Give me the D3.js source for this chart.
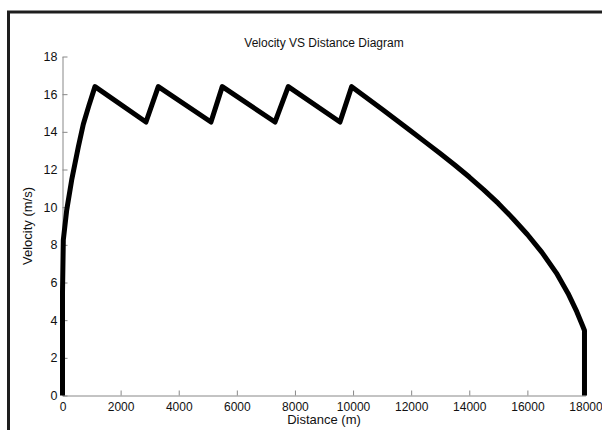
<!DOCTYPE html>
<html>
<head>
<meta charset="utf-8">
<script src="https://cdn.jsdelivr.net/npm/d3@7"></script>
<style>
  html, body { margin: 0; padding: 0; background: #fff; overflow: hidden; }
  svg { display: block; }
  text { font-family: "Liberation Sans", Arial, Helvetica, sans-serif; fill: #111; }
</style>
</head>
<body>
<svg id="chart" width="602" height="430"></svg>
<script>
// ---- data ----
const distance = [0, 0, 28, 145, 317, 544, 716, 900, 1118,
  2873, 3297, 5110, 5499, 7313, 7770, 9550, 9952,
  11000, 12000, 12500, 13000, 13500, 14000, 14500, 15000, 15500, 16000, 16500, 17000, 17400, 17700, 17900, 17965, 17965];
const velocity = [0, 5.5, 8.26, 9.85, 11.45, 13.2, 14.4, 15.35, 16.4,
  14.52, 16.4, 14.52, 16.4, 14.52, 16.4, 14.52, 16.4,
  15.2, 14.03, 13.44, 12.85, 12.24, 11.6, 10.92, 10.2, 9.4, 8.55, 7.6, 6.5, 5.42, 4.45, 3.7, 3.45, 0];
const xTicks = [0, 2000, 4000, 6000, 8000, 10000, 12000, 14000, 16000, 18000];
const yTicks = [0, 2, 4, 6, 8, 10, 12, 14, 16, 18];
const titleText = "Velocity VS Distance Diagram";
const xLabel = "Distance (m)";
const yLabel = "Velocity (m/s)";

const svg = d3.select("#chart");

// outer frame (extends past the right/bottom edges like in the reference)
svg.append("rect")
  .attr("x", 8.5).attr("y", 12)
  .attr("width", 900).attr("height", 600)
  .attr("fill", "none").attr("stroke", "#1e1e1e").attr("stroke-width", 3);

const pLeft = 62.5, pRight = 585.5, pTop = 56.5, pBottom = 395.5;
const x = d3.scaleLinear().domain([0, 18000]).range([pLeft, pRight]);
const y = d3.scaleLinear().domain([0, 18]).range([pBottom, pTop]);

const axisColor = "#888";

// x axis (ticks pointing inward/up)
const gx = svg.append("g").attr("transform", `translate(0,${pBottom})`)
  .call(d3.axisBottom(x).tickValues(xTicks).tickSizeInner(-5).tickSizeOuter(0)
    .tickFormat(d3.format("d")));
gx.select(".domain").attr("stroke", axisColor);
gx.selectAll(".tick line").attr("stroke", axisColor);
gx.selectAll(".tick text").attr("font-size", 12).attr("font-family", "Liberation Sans, Arial, sans-serif")
  .attr("fill", "#111").attr("dy", 0).attr("y", 15);

// y axis (ticks pointing inward/right)
const gy = svg.append("g").attr("transform", `translate(${pLeft},0)`)
  .call(d3.axisLeft(y).tickValues(yTicks).tickSizeInner(-5).tickSizeOuter(0));
gy.select(".domain").attr("stroke", axisColor);
gy.selectAll(".tick line").attr("stroke", axisColor);
gy.selectAll(".tick text").attr("font-size", 12.5).attr("font-family", "Liberation Sans, Arial, sans-serif")
  .attr("fill", "#111").attr("x", -5);

// data line
const pts = distance.map((d, i) => [d, velocity[i]]);
svg.append("path")
  .datum(pts)
  .attr("fill", "none")
  .attr("stroke", "#000")
  .attr("stroke-width", 5)
  .attr("stroke-linejoin", "round")
  .attr("d", d3.line().x(d => x(d[0])).y(d => y(d[1])));

// title & labels
svg.append("text")
  .attr("x", (pLeft + pRight) / 2).attr("y", 47)
  .attr("text-anchor", "middle").attr("font-size", 12)
  .text(titleText);

svg.append("text")
  .attr("x", (pLeft + pRight) / 2).attr("y", 424)
  .attr("text-anchor", "middle").attr("font-size", 13)
  .text(xLabel);

svg.append("text")
  .attr("transform", `translate(32,${(pTop + pBottom) / 2}) rotate(-90)`)
  .attr("text-anchor", "middle").attr("font-size", 13)
  .text(yLabel);
</script>
</body>
</html>
